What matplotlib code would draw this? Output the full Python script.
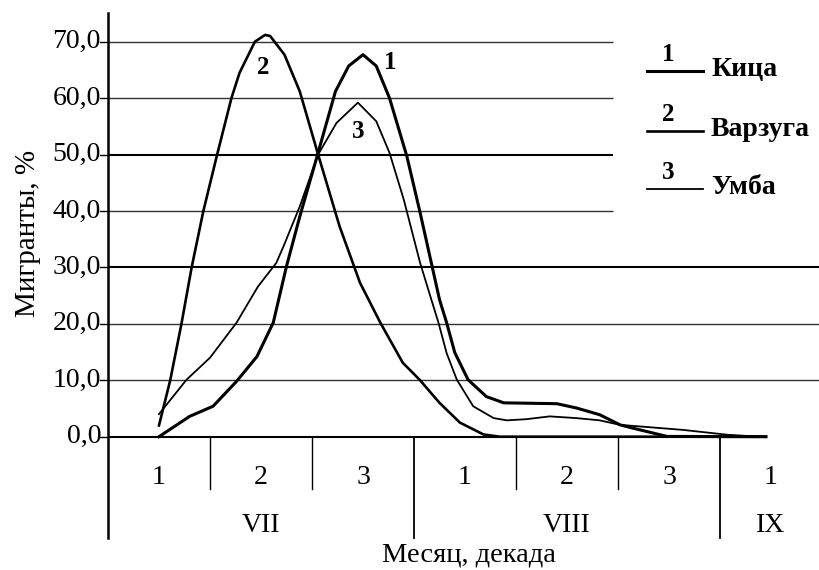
import matplotlib
matplotlib.use("Agg")
import matplotlib.pyplot as plt

plt.rcParams['font.family'] = ['Liberation Serif', 'DejaVu Serif']

# ---- data (x in decades from 1 July, y in %) ----
kitsa_x = [0.5, 0.80, 1.03, 1.26, 1.46, 1.62, 1.75, 1.88, 2.05, 2.23, 2.36, 2.50,
           2.63, 2.76, 2.93, 3.06, 3.25, 3.32, 3.40, 3.53, 3.71, 3.88, 4.40,
           4.59, 4.82, 5.02, 5.15, 5.48, 6.45]
kitsa_y = [0.0, 3.6, 5.4, 9.8, 14.2, 20.2, 30.2, 39.0, 49.7, 61.2, 65.7, 67.7,
           65.7, 60.0, 49.7, 39.7, 24.3, 20.2, 14.9, 10.1, 7.1, 6.0, 5.85,
           5.1, 3.9, 2.1, 1.5, 0.05, 0.0]

varzuga_x = [0.5, 0.61, 0.72, 0.82, 0.935, 1.07, 1.21, 1.29, 1.44, 1.54, 1.59,
             1.73, 1.88, 2.06, 2.27, 2.47, 2.67, 2.89, 3.06, 3.25, 3.45, 3.68,
             3.84, 6.45]
varzuga_y = [2.0, 10.0, 20.0, 30.0, 40.0, 50.0, 60.0, 64.5, 70.0, 71.2, 71.0,
             67.7, 61.2, 50.0, 37.3, 27.3, 20.2, 13.1, 10.0, 6.0, 2.5, 0.4,
             0.0, 0.0]

umba_x = [0.5, 0.77, 1.0, 1.26, 1.47, 1.65, 1.72, 1.88, 2.06, 2.24, 2.45, 2.63,
          2.76, 2.90, 3.06, 3.17, 3.24, 3.32, 3.42, 3.58, 3.78, 3.91, 4.10,
          4.33, 4.59, 4.82, 5.02, 5.64, 6.07, 6.39]
umba_y = [4.0, 10.1, 14.0, 20.2, 26.6, 30.8, 33.7, 40.8, 50.0, 55.6, 59.2, 55.9,
          50.3, 42.0, 30.8, 24.3, 20.2, 14.8, 10.1, 5.4, 3.3, 2.9, 3.1,
          3.6, 3.3, 2.9, 2.1, 1.2, 0.35, 0.0]

y_ticks = [0, 10, 20, 30, 40, 50, 60, 70]
y_tick_labels = ["0,0", "10,0", "20,0", "30,0", "40,0", "50,0", "60,0", "70,0"]
decade_labels = ["1", "2", "3", "1", "2", "3", "1"]
month_labels = ["VII", "VIII", "IX"]
series_names = ["Кица", "Варзуга", "Умба"]
series_numbers = ["1", "2", "3"]

# ---- layout in pixels ----
W, H = 819, 570
px0 = 108.0       # x pixel of y axis
dec_w = 102.0     # pixels per decade
py0 = 436.7       # y pixel of 0 %
unit = 5.643      # pixels per 1 %

fig = plt.figure(figsize=(W / 100, H / 100), dpi=100)
ax = fig.add_axes([0, 0, 1, 1])
ax.set_xlim(-px0 / dec_w, (W - px0) / dec_w)
ax.set_ylim(-(H - py0) / unit, py0 / unit)
ax.axis('off')

def px2x(p):
    return (p - px0) / dec_w

def py2y(p):
    return (py0 - p) / unit

fs = 20
ink = 'black'

# gridlines
for v, lab in zip(y_ticks, y_tick_labels):
    if v == 0:
        x_end = px2x(766)
    elif v <= 30:
        x_end = px2x(W + 5)
    else:
        x_end = px2x(613)
    lw = 1.5 if v in (0, 30, 50) else 1.0
    col = ink if v in (0, 30, 50) else '#333333'
    ax.plot([0, x_end], [v, v], color=col, lw=lw, solid_capstyle='butt', zorder=1)
    ax.plot([px2x(100), 0], [v, v], color=ink, lw=1.0, zorder=1)
    ax.text(px2x(101), v, lab, ha='right', va='center', fontsize=fs, color=ink)

# y axis
ax.plot([0, 0], [py2y(538), py2y(13)], color=ink, lw=1.8, zorder=2)

# decade boundaries
for i in range(1, 7):
    bottom = py2y(538) if i in (3, 6) else py2y(489)
    ax.plot([i, i], [0, bottom], color=ink, lw=1.3 if i in (3, 6) else 1.0, zorder=2)

for i, lab in enumerate(decade_labels):
    ax.text(i + 0.5, py2y(478), lab, ha='center', va='center', fontsize=fs, color=ink)

for xc, lab in zip([1.5, 4.5, 6.5], month_labels):
    ax.text(xc, py2y(526), lab, ha='center', va='center', fontsize=fs, color=ink)

ax.text(px2x(469), py2y(555), "Месяц, декада", ha='center', va='center',
        fontsize=fs + 0.5, color=ink)
ax.text(px2x(28), py2y(233), "Мигранты, %", ha='center', va='center', rotation=90,
        fontsize=fs + 1, color=ink)

# curves
ax.plot(kitsa_x, kitsa_y, color=ink, lw=2.2, zorder=3, solid_joinstyle='round')
ax.plot(varzuga_x, varzuga_y, color=ink, lw=1.9, zorder=3, solid_joinstyle='round')
ax.plot(umba_x, umba_y, color=ink, lw=1.3, zorder=3, solid_joinstyle='round')

ax.text(px2x(263), py2y(68), "2", ha='center', va='center', fontsize=fs - 2,
        fontweight='bold', color=ink)
ax.text(px2x(390), py2y(63), "1", ha='center', va='center', fontsize=fs - 2,
        fontweight='bold', color=ink)
ax.text(px2x(358), py2y(132), "3", ha='center', va='center', fontsize=fs - 2,
        fontweight='bold', color=ink)

# legend
leg_line_y = [71, 131, 189]
leg_lw = [2.2, 1.9, 1.3]
for k in range(3):
    ly = leg_line_y[k]
    ax.plot([px2x(647), px2x(703)], [py2y(ly), py2y(ly)], color=ink, lw=leg_lw[k])
    ax.text(px2x(668), py2y(ly - 16), series_numbers[k], ha='center', va='center',
            fontsize=fs - 2, fontweight='bold', color=ink)
    ax.text(px2x(711), py2y(ly - 1), series_names[k], ha='left', va='center',
            fontsize=fs, fontweight='bold', color=ink)

fig.savefig("out.png", dpi=100, facecolor='white')
